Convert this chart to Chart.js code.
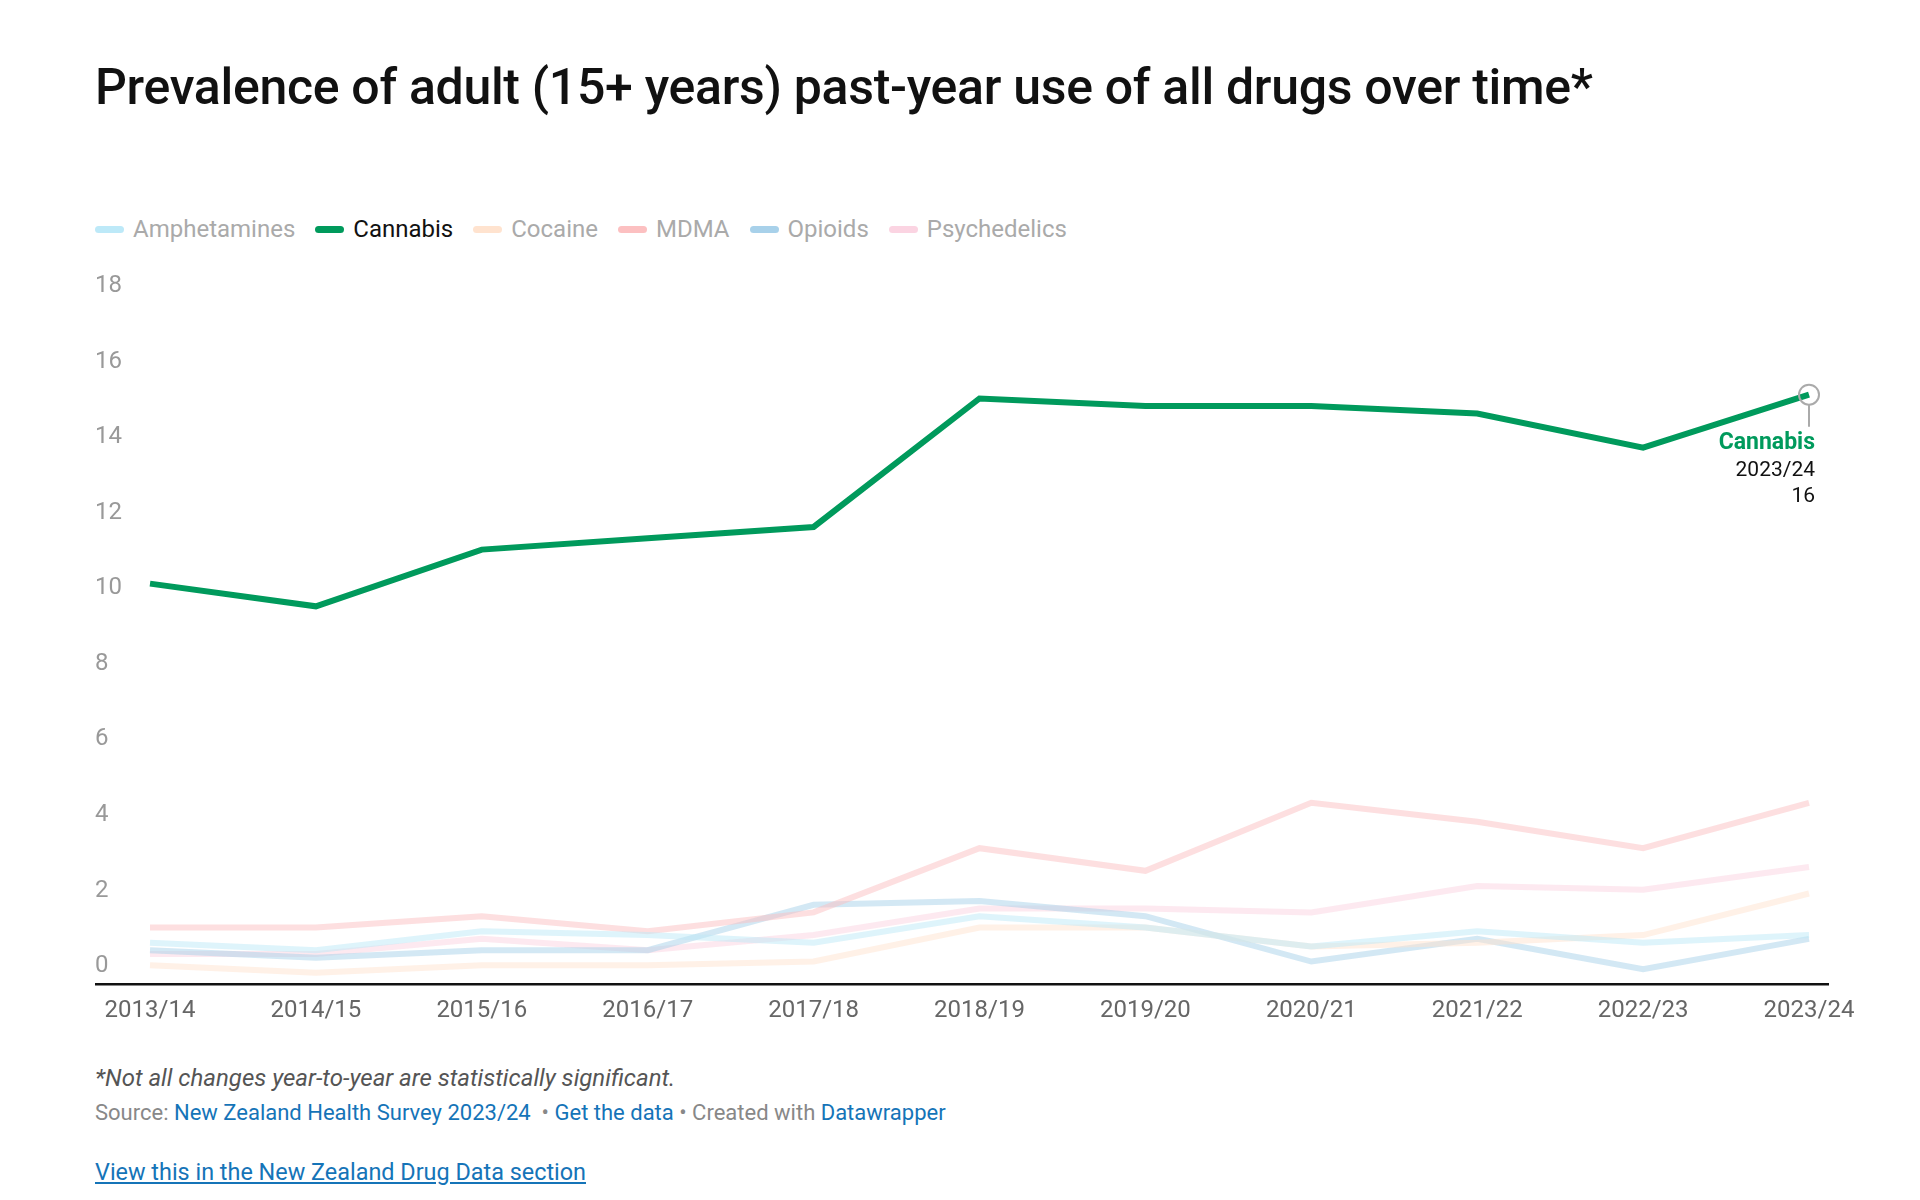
<!DOCTYPE html>
<html>
<head>
<meta charset="utf-8">
<script src="https://cdn.jsdelivr.net/npm/chart.js@4.4.1/dist/chart.umd.min.js"></script>
<style>
  body { margin: 0; background: #fff; font-family: Roboto, sans-serif; }
  #title { position: absolute; left: 95px; top: 57px; font-size: 50px; line-height: 60px; font-weight: 500; color: #111; white-space: nowrap; letter-spacing: -0.3px; }
  #legend { position: absolute; left: 95px; top: 215px; font-size: 24px; line-height: 28px; white-space: nowrap; }
  #legend .item { display: inline-block; margin-right: 20px; color: #aaa; }
  #legend .item.on { color: #111; }
  #legend .sw { display: inline-block; width: 29px; height: 7px; border-radius: 4px; margin-right: 9px; vertical-align: middle; position: relative; top: -1px; }
  #wrap { position: absolute; left: 0; top: 200px; width: 1920px; height: 829px; }
  #notes { position: absolute; left: 95px; top: 1064px; }
  #notes .note { font-size: 24px; line-height: 28px; font-style: italic; color: #555; }
  #notes .src { font-size: 22px; line-height: 26px; color: #888; margin-top: 8px; }
  #notes a { color: #1574b8; text-decoration: none; }
  #notes .more { display: block; margin-top: 33px; font-size: 23.4px; line-height: 27px; text-decoration: underline; }
</style>
</head>
<body>
<div id="title">Prevalence of adult (15+ years) past-year use of all drugs over time*</div>
<div id="legend"></div>
<div id="wrap"><canvas id="chart"></canvas></div>
<div id="notes">
  <div class="note">*Not all changes year-to-year are statistically significant.</div>
  <div class="src">Source: <a>New Zealand Health Survey 2023/24</a> &nbsp;• <a>Get the data</a> • Created with <a>Datawrapper</a></div>
  <a class="more">View this in the New Zealand Drug Data section</a>
</div>
<script>
// Data (percent of adults)
const years = ['2013/14', '2014/15', '2015/16', '2016/17', '2017/18', '2018/19', '2019/20', '2020/21', '2021/22', '2022/23', '2023/24'];
const amphetamines = [1.1, 0.9, 1.4, 1.3, 1.1, 1.8, 1.5, 1.0, 1.4, 1.1, 1.3];
const cannabis = [10.6, 10.0, 11.5, 11.8, 12.1, 15.5, 15.3, 15.3, 15.1, 14.2, 15.6];
const cocaine = [0.5, 0.3, 0.5, 0.5, 0.6, 1.5, 1.5, 1.0, 1.1, 1.3, 2.4];
const mdma = [1.5, 1.5, 1.8, 1.4, 1.9, 3.6, 3.0, 4.8, 4.3, 3.6, 4.8];
const opioids = [0.9, 0.7, 0.9, 0.9, 2.1, 2.2, 1.8, 0.6, 1.2, 0.4, 1.2];
const psychedelics = [0.8, 0.8, 1.2, 0.9, 1.3, 2.0, 2.0, 1.9, 2.6, 2.5, 3.1];
const yTicks = [0, 2, 4, 6, 8, 10, 12, 14, 16, 18];

const seriesNames = ['Amphetamines', 'Cannabis', 'Cocaine', 'MDMA', 'Opioids', 'Psychedelics'];
const seriesData = [amphetamines, cannabis, cocaine, mdma, opioids, psychedelics];
const seriesColors = ['#bde9f8', '#009a5c', '#ffe3cf', '#fcc0c1', '#a8d1ea', '#fbd4e2'];
const highlight = 'Cannabis';

function fade(hex, a) {
    const n = parseInt(hex.slice(1), 16);
    return `rgba(${n >> 16}, ${(n >> 8) & 255}, ${n & 255}, ${a})`;
}

// legend
const legendEl = document.getElementById('legend');
seriesNames.forEach((name, i) => {
    const item = document.createElement('span');
    item.className = 'item' + (name === highlight ? ' on' : '');
    item.innerHTML = `<span class="sw" style="background:${seriesColors[i]}"></span>${name}`;
    legendEl.appendChild(item);
});

const datasets = seriesNames.map((name, i) => ({
    label: name,
    data: seriesData[i],
    borderColor: name === highlight ? seriesColors[i] : fade(seriesColors[i], 0.5),
    borderWidth: 6,
    pointRadius: 0,
    tension: 0,
    order: name === highlight ? 0 : 1
}));

// zero baseline (wider than the plot, like the original)
const baseline = {
    id: 'baseline',
    afterDatasetsDraw(chart) {
        const ctx = chart.ctx;
        const y = chart.scales.y.getPixelForValue(0);
        ctx.save();
        ctx.strokeStyle = '#111';
        ctx.lineWidth = 2.5;
        ctx.beginPath();
        ctx.moveTo(95, y);
        ctx.lineTo(chart.chartArea.right + 20, y);
        ctx.stroke();
        ctx.restore();
    }
};

// label on the last cannabis point
const endLabel = {
    id: 'endLabel',
    afterDatasetsDraw(chart) {
        const idx = seriesNames.indexOf(highlight);
        const last = years.length - 1;
        const pt = chart.getDatasetMeta(idx).data[last];
        const ctx = chart.ctx;
        ctx.save();
        ctx.strokeStyle = '#aaa';
        ctx.lineWidth = 2;
        ctx.beginPath();
        ctx.arc(pt.x, pt.y, 10, 0, Math.PI * 2);
        ctx.stroke();
        ctx.beginPath();
        ctx.moveTo(pt.x, pt.y + 10);
        ctx.lineTo(pt.x, pt.y + 32);
        ctx.stroke();
        ctx.textAlign = 'right';
        ctx.textBaseline = 'middle';
        ctx.font = 'bold 23px Roboto';
        ctx.fillStyle = '#009a5c';
        ctx.fillText(highlight, pt.x + 6, pt.y + 49);
        ctx.font = '21px Roboto';
        ctx.fillStyle = '#111';
        ctx.fillText(years[last], pt.x + 6, pt.y + 76);
        ctx.fillText(Math.round(seriesData[idx][last]), pt.x + 6, pt.y + 102);
        ctx.restore();
    }
};

new Chart(document.getElementById('chart'), {
    type: 'line',
    data: { labels: years, datasets: datasets },
    options: {
        responsive: true,
        maintainAspectRatio: false,
        animation: false,
        layout: { padding: { left: 95, right: 111, top: 104, bottom: 0 } },
        plugins: {
            tooltip: { enabled: false },
            legend: { display: false }
        },
        scales: {
            x: {
                offset: false,
                grid: { display: false },
                border: { display: false },
                ticks: { color: '#666', font: { family: 'Roboto', size: 24 }, padding: 4, maxRotation: 0, autoSkip: false }
            },
            y: {
                min: 0,
                max: 18,
                grid: { display: false },
                border: { display: false },
                afterBuildTicks: (scale) => { scale.ticks = yTicks.map(v => ({ value: v })); },
                afterFit: (scale) => { scale.width = 55; },
                ticks: { color: '#999', font: { family: 'Roboto', size: 24 }, crossAlign: 'far', labelOffset: -18, padding: 0 }
            }
        }
    },
    plugins: [baseline, endLabel]
});
</script>
</body>
</html>
